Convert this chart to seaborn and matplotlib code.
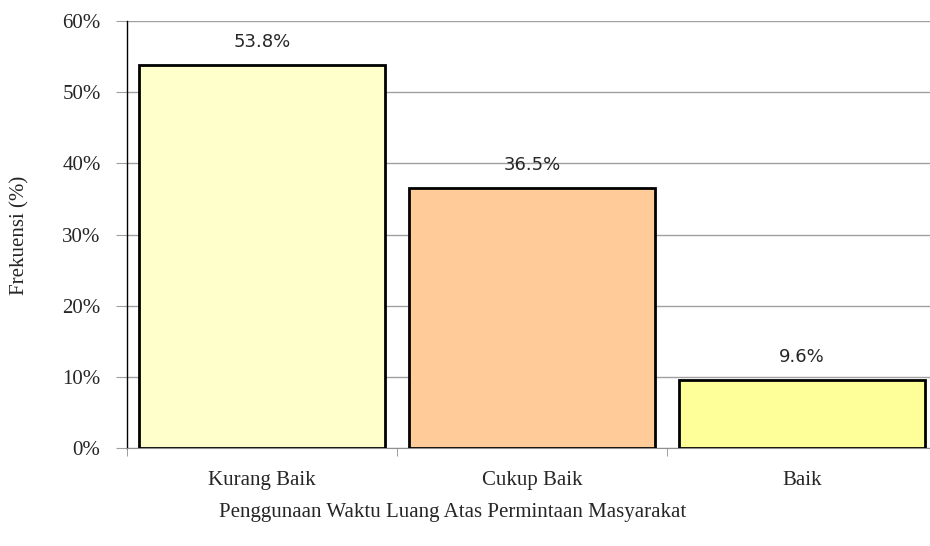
import matplotlib
matplotlib.use("Agg")
import matplotlib.pyplot as plt
import seaborn as sns
import pandas as pd

categories = ["Kurang Baik", "Cukup Baik", "Baik"]
values = [53.8, 36.5, 9.6]
labels = ["53.8%", "36.5%", "9.6%"]
colors = ["#FFFFCC", "#FFCC99", "#FFFF99"]

df = pd.DataFrame({"kategori": categories, "persen": values})

sns.set_style("white")
serif = ["Liberation Serif", "DejaVu Serif"]

fig = plt.figure(figsize=(9.30, 5.46), dpi=100)
ax = fig.add_axes([127 / 930, 1 - 448 / 546, 810 / 930, 427 / 546])

sns.barplot(data=df, x="kategori", y="persen", hue="kategori", palette=colors,
            legend=False, width=0.91, edgecolor="black", linewidth=2,
            saturation=1, ax=ax, zorder=3)

ax.set_ylim(0, 60)
ax.set_xlim(-0.5, 2.5)
ax.set_yticks(range(0, 61, 10))
ax.set_yticklabels([f"{t}%" for t in range(0, 61, 10)], family=serif, fontsize=15)
ax.set_xticks([])
ax.set_xticks([-0.5, 0.5, 1.5, 2.5], minor=True)
ax.tick_params(axis="x", which="minor", length=6, color="#909090", direction="out", bottom=True)
ax.tick_params(axis="y", length=8, color="#A0A0A0", direction="out", pad=11, left=True)
ax.yaxis.grid(True, color="#A0A0A0", linewidth=1, zorder=0)
ax.set_axisbelow(True)

for i, c in enumerate(categories):
    ax.text(i, -4.5, c, ha="center", va="center", family=serif, fontsize=15)

for i, (v, lab) in enumerate(zip(values, labels)):
    ax.text(i, v + 3.2, lab, ha="center", va="center", family="DejaVu Sans", fontsize=13)

for s in ["top", "right"]:
    ax.spines[s].set_visible(False)
ax.spines["left"].set_color("black")
ax.spines["left"].set_linewidth(1)
ax.spines["bottom"].set_color("#909090")
ax.set_xlabel("")
ax.set_ylabel("")

fig.text(20 / 930, 1 - 235 / 546, "Frekuensi (%)", rotation=90, ha="center", va="center",
         family=serif, fontsize=15)
fig.text(453 / 930, 1 - 512 / 546, "Penggunaan Waktu Luang Atas Permintaan Masyarakat",
         ha="center", va="center", family=serif, fontsize=15)

fig.savefig("out.png", dpi=100)
